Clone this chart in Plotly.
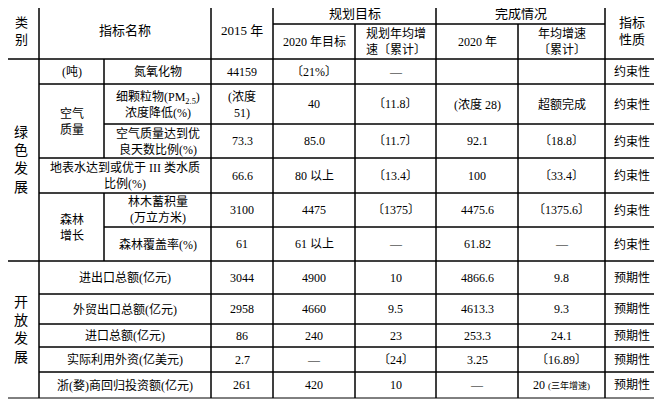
import plotly.graph_objects as go

categories = ["绿<br>色<br>发<br>展", "开<br>放<br>发<br>展"]
groups = ["(吨)", "空气<br>质量", "森林<br>增长"]
names = ["氮氧化物", "细颗粒物(PM<sub>2.5</sub>)<br>浓度降低(%)", "空气质量达到优<br>良天数比例(%)",
         "地表水达到或优于 III 类水质<br>比例(%)", "林木蓄积量<br>(万立方米)", "森林覆盖率(%)",
         "进出口总额(亿元)", "外贸出口总额(亿元)", "进口总额(亿元)", "实际利用外资(亿美元)",
         "浙(婺)商回归投资额(亿元)"]
v2015 = ["44159", "(浓度<br>51)", "73.3", "66.6", "3100", "61", "3044", "2958", "86", "2.7", "261"]
target2020 = ["〔21%〕", "40", "85.0", "80 以上", "4475", "61 以上", "4900", "4660", "240", "—", "420"]
plan_growth = ["—", "〔11.8〕", "〔11.7〕", "〔13.4〕", "〔1375〕", "—", "10", "9.5", "23", "〔24〕", "10"]
actual2020 = ["", "(浓度 28)", "92.1", "100", "4475.6", "61.82", "4866.6", "4613.3", "253.3", "3.25", "—"]
actual_growth = ["", "超额完成", "〔18.8〕", "〔33.4〕", "〔1375.6〕", "—", "9.8", "9.3", "24.1", "〔16.89〕",
                 "20 <span style='font-size:9px'>(三年增速)</span>"]
nature = ["约束性"] * 6 + ["预期性"] * 5
headers_top = ["类<br>别", "指标名称", "2015 年", "规划目标", "完成情况", "指标<br>性质"]
headers_sub = ["2020 年目标", "规划年均增<br>速〔累计〕", "2020 年", "年均增速<br>〔累计〕"]

X = [3, 39, 104, 211, 273, 355, 436, 518, 605, 659]
Y = [2, 24, 59, 84, 124, 158, 193, 227, 261, 294, 324, 347, 372, 398]

cells = []
def cell(r0, r1, c0, c1, t, size=12):
    cells.append((X[c0], X[c1], Y[r0], Y[r1], t, size))

# header
cell(0, 2, 0, 1, headers_top[0], 13)
cell(0, 2, 1, 3, headers_top[1], 13)
cell(0, 2, 3, 4, headers_top[2], 13)
cell(0, 1, 4, 6, headers_top[3], 13)
cell(0, 1, 6, 8, headers_top[4], 13)
cell(0, 2, 8, 9, headers_top[5], 13)
for i, h in enumerate(headers_sub):
    cell(1, 2, 4 + i, 5 + i, h, 12)
# categories
cell(2, 8, 0, 1, categories[0], 14)
cell(8, 13, 0, 1, categories[1], 14)
# groups
cell(2, 3, 1, 2, groups[0])
cell(3, 5, 1, 2, groups[1])
cell(6, 8, 1, 2, groups[2])
for i in range(len(names)):
    r = i + 2
    if i in (0, 1, 2, 4, 5):
        cell(r, r + 1, 2, 3, names[i])
    else:
        cell(r, r + 1, 1, 3, names[i])
    for c, arr in zip(range(3, 9), [v2015, target2020, plan_growth, actual2020, actual_growth, nature]):
        cell(r, r + 1, c, c + 1, arr[i])

fig = go.Figure(go.Scatter(x=[10], y=[10], mode="markers", marker=dict(opacity=0), hoverinfo="skip"))
shapes, ann = [], []
for x0, x1, y0, y1, t, s in cells:
    shapes.append(dict(type="rect", xref="x", yref="y", x0=x0, x1=x1, y0=y0, y1=y1,
                       line=dict(color="black", width=1)))
    if t:
        ann.append(dict(x=(x0 + x1) / 2, y=(y0 + y1) / 2, xref="x", yref="y", text=t, showarrow=False,
                        font=dict(size=s, color="black", family="Liberation Serif, Noto Sans CJK SC")))
fig.update_layout(width=662, height=400, margin=dict(l=0, r=0, t=0, b=0), showlegend=False,
                  plot_bgcolor="white", paper_bgcolor="white", shapes=shapes, annotations=ann,
                  xaxis=dict(range=[8, 670], visible=False, fixedrange=True),
                  yaxis=dict(range=[408, 8], visible=False, fixedrange=True))
fig.write_html("out.html")
